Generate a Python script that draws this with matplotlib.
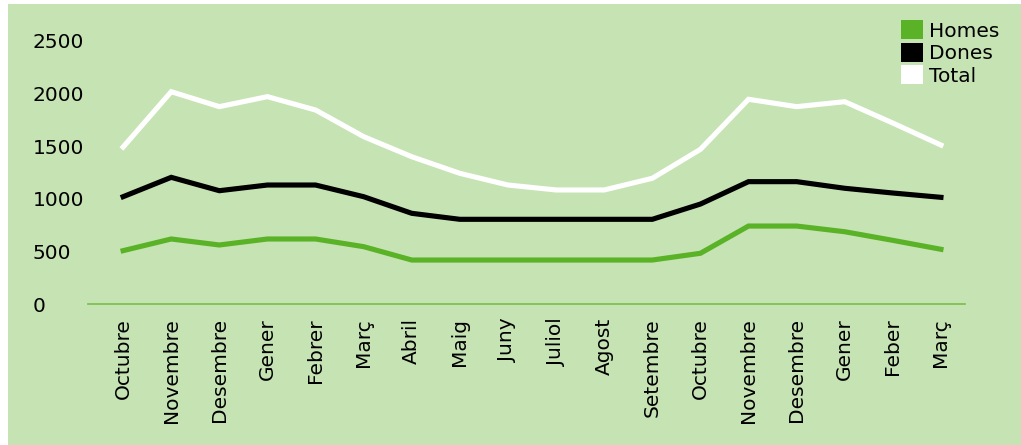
import matplotlib
matplotlib.use("Agg")
import matplotlib.pyplot as plt
from matplotlib.patches import Patch, Rectangle

months = ["Octubre", "Novembre", "Desembre", "Gener", "Febrer", "Març", "Abril",
          "Maig", "Juny", "Juliol", "Agost", "Setembre", "Octubre", "Novembre",
          "Desembre", "Gener", "Feber", "Març"]
homes = [507, 618, 561, 618, 618, 545, 418, 418, 418, 418, 418, 418, 482, 741, 741, 687, 605, 520]
dones = [1020, 1204, 1077, 1131, 1131, 1020, 862, 805, 805, 805, 805, 805, 950, 1163, 1163, 1100, 1055, 1014]
total = [1492, 2018, 1876, 1971, 1844, 1591, 1400, 1242, 1131, 1084, 1084, 1195, 1470, 1946, 1876, 1923, 1720, 1511]
series_names = ["Homes", "Dones", "Total"]
yticks = [0, 500, 1000, 1500, 2000, 2500]

BG = "#C6E3B4"
GREEN = "#5AB226"
AXIS = "#78BE4A"
FS = 14.5

W, H = 1021, 445
fig = plt.figure(figsize=(W / 100, H / 100), dpi=100)
fig.patch.set_facecolor("white")
fig.add_artist(Rectangle((8 / W, 0), 1, (H - 4) / H, transform=fig.transFigure,
                         facecolor=BG, edgecolor="none", zorder=0))

ax = fig.add_axes([88 / W, (H - 304) / H, (965 - 88) / W, (304 - 41) / H])
ax.set_facecolor("none")

n = len(months)
x = list(range(n))
ax.plot(x, homes, color=GREEN, lw=3.7, solid_joinstyle="miter", zorder=3)
ax.plot(x, dones, color="black", lw=3.7, solid_joinstyle="miter", zorder=3)
ax.plot(x, total, color="white", lw=3.7, solid_joinstyle="miter", zorder=3)

ax.set_ylim(0, 2500)
ax.set_xlim(-0.73, (n - 1) + 0.5)
ax.set_yticks(yticks)
ax.set_yticklabels([str(v) for v in yticks], ha="left")
ax.set_xticks(x)
ax.set_xticklabels(months, rotation=90, va="top", ha="center")
ax.tick_params(axis="y", length=0, pad=40, labelsize=FS)
ax.tick_params(axis="x", length=0, pad=10, labelsize=FS)
for s in ["top", "right", "left"]:
    ax.spines[s].set_visible(False)
ax.spines["bottom"].set_color(AXIS)
ax.spines["bottom"].set_linewidth(1.2)

handles = [Patch(facecolor=GREEN, edgecolor="none"),
           Patch(facecolor="black", edgecolor="none"),
           Patch(facecolor="white", edgecolor="none")]
fig.legend(handles, series_names, loc="upper left",
           bbox_to_anchor=(901 / W, 1 - 20 / H), frameon=False,
           fontsize=FS, handlelength=1.1, handleheight=1.1,
           handletextpad=0.3, labelspacing=0.1, borderpad=0, borderaxespad=0)

fig.savefig("out.png", dpi=100, facecolor=fig.get_facecolor())
